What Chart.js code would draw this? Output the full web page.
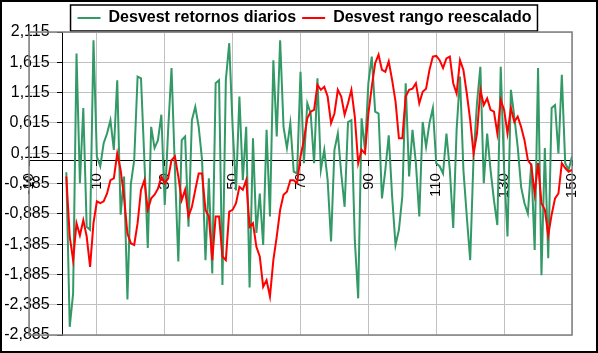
<!DOCTYPE html>
<html>
<head>
<meta charset="utf-8">
<script src="https://cdn.jsdelivr.net/npm/chart.js@4.4.1/dist/chart.umd.min.js"></script>
<style>
  body { margin: 0; background: #fff; }
  #wrap { width: 598px; height: 353px; }
</style>
</head>
<body>
<div id="wrap"><canvas id="grafico"></canvas></div>
<script>
// datos (dias 1..150)
const dias = Array.from({ length: 150 }, (_, i) => i + 1);

const retornos = [
  -0.2, -2.75, -2.2, 1.76, -0.38, 0.86, -1.1, -1.15, 1.98, 0.06,
  -0.1, 0.28, 0.44, 0.66, 0.17, 1.32, -0.9, -0.27, -2.3, -0.4,
  0.0, 1.38, 1.35, 0.0, -1.45, 0.55, 0.2, 0.33, 0.75, -0.74,
  0.5, 1.52, -0.16, -1.67, 0.33, 0.39, -1.1, 0.66, 0.88, 0.55,
  0.0, -1.65, -0.3, -1.87, 1.27, 1.32, -2.06, 1.32, 1.93, 0.55,
  -0.5, 1.05, -0.33, 0.55, -2.1, 0.36, -1.2, -0.55, -1.4, 0.5,
  -0.93, 1.65, 0.39, 1.98, 0.55, 0.2, 0.61, -0.19, -0.22, 1.46,
  -0.05, 0.94, 0.77, -0.05, 1.35, -0.16, 0.17, -0.33, -1.34, 0.17,
  0.44, -0.22, -0.77, 0.63, 0.66, -1.32, -2.28, 0.69, 0.17, 1.27,
  1.71, 0.8, 0.77, -0.63, -0.16, 0.41, -0.6, -1.4, -1.15, -0.6,
  1.27, -0.27, 0.5, -0.05, -0.93, 0.63, 0.22, 0.61, 0.86, -0.05,
  -0.1, -0.22, 0.44, -0.16, -1.12, 0.5, 1.38, -0.16, -0.93, -1.65,
  0.06, 0.94, 1.54, -0.38, 0.44, -0.16, -0.66, -1.07, 1.54, -0.16,
  -1.26, 1.16, 0.72, 0.22, -0.44, -0.71, -0.88, -0.05, -1.48, 1.52,
  -1.9, 0.2, -1.62, 0.86, 0.91, 0.11, 1.41, -0.05, -0.16, 0.06
];

const rango = [
  -0.27, -1.26, -1.65, -1.04, -1.24, -0.99, -1.26, -1.76, -1.04, -0.68,
  -0.71, -0.68, -0.55, -0.33, -0.3, 0.11, -0.16, -0.6, -1.21, -1.37,
  -1.4, -1.04, -0.49, -0.33, -0.82, -0.63, -0.57, -0.47, -0.27, -0.38,
  -0.3, 0.0, 0.06, -0.27, -0.66, -0.49, -0.93, -0.77, -0.49, -0.22,
  -0.22, -0.82, -0.93, -1.65, -0.93, -0.93, -1.59, -1.65, -0.85, -0.82,
  -0.71, -0.44, -0.49, -0.33, -1.1, -1.04, -1.43, -1.59, -2.09, -1.98,
  -2.25, -1.65, -1.26, -0.82, -0.57, -0.52, -0.33, -0.33, -0.38, 0.06,
  0.33, 0.69, 0.8, 0.83, 1.24, 1.16, 1.21, 1.05, 0.61, 0.77,
  1.16, 1.05, 0.75, 0.94, 1.16, 0.72, -0.05, 0.17, 0.11, 0.77,
  1.21, 1.6, 1.74, 1.49, 1.46, 1.63, 1.32, 0.97, 0.36, 0.36,
  1.05, 1.16, 1.18, 1.27, 0.94, 1.13, 1.18, 1.49, 1.71, 1.72,
  1.65, 1.52, 1.68, 1.71, 1.27, 1.1, 1.65, 1.49, 1.1, 0.66,
  0.11, 0.44, 1.16, 0.91, 1.02, 0.83, 0.8, 0.44, 0.99, 0.83,
  0.44, 0.86, 0.63, 0.72, 0.55, 0.33, 0.0, -0.08, -0.55, -0.05,
  -0.71, -0.82, -1.24, -0.9, -0.63, -0.55, -0.05, -0.13, -0.19, -0.16
];

const ticksX = [-10, 10, 30, 50, 70, 90, 110, 130, 150];
const ticksY = [-2.885, -2.385, -1.885, -1.385, -0.885, -0.385, 0.115, 0.615, 1.115, 1.615, 2.115];

const FUENTE = "'Liberation Sans', Arial, sans-serif";

// marco negro del grafico, caja de la leyenda y borde gris del area de trazado
const marcos = {
  id: 'marcos',
  beforeDraw(chart) {
    const c = chart.ctx;
    c.save();
    c.fillStyle = '#fff';
    c.fillRect(0, 0, chart.width, chart.height);
    c.strokeStyle = '#000';
    c.lineWidth = 2;
    c.strokeRect(1, 1, chart.width - 2, chart.height - 2);
    const hb = chart.legend.legendHitBoxes;
    if (hb && hb.length) {
      const l = hb[0].left - 7;
      const r = hb[hb.length - 1].left + hb[hb.length - 1].width + 6;
      const t = hb[0].top - 5;
      const b = hb[0].top + hb[0].height + 5;
      c.lineWidth = 1.5;
      c.strokeRect(l, t, r - l, b - t);
    }
    c.restore();
  },
  beforeDatasetsDraw(chart) {
    const a = chart.chartArea;
    const c = chart.ctx;
    c.save();
    c.strokeStyle = '#808080';
    c.lineWidth = 1.5;
    c.strokeRect(a.left, a.top, a.right - a.left, a.bottom - a.top);
    c.restore();
  }
};

// la leyenda se solapa con el borde superior como en Excel
const ajusteLeyenda = {
  id: 'ajusteLeyenda',
  beforeInit(chart) {
    const fit = chart.legend.fit;
    chart.legend.fit = function () {
      fit.call(this);
      this.height = 28;
    };
  }
};

new Chart(document.getElementById('grafico'), {
  type: 'line',
  data: {
    labels: dias,
    datasets: [
      {
        label: 'Desvest retornos diarios',
        data: retornos,
        borderColor: '#339966',
        backgroundColor: '#339966',
        borderWidth: 2,
        pointRadius: 0,
        tension: 0,
        order: 1
      },
      {
        label: 'Desvest rango reescalado',
        data: rango,
        borderColor: '#ff0000',
        backgroundColor: '#ff0000',
        borderWidth: 2,
        pointRadius: 0,
        tension: 0,
        order: 0
      }
    ]
  },
  options: {
    responsive: true,
    maintainAspectRatio: false,
    animation: false,
    devicePixelRatio: 1,
    layout: { padding: { left: 29, right: 18, top: 4, bottom: 18 } },
    plugins: {
      tooltip: { enabled: false },
      legend: {
        position: 'top',
        labels: {
          usePointStyle: true,
          pointStyle: 'line',
          pointStyleWidth: 23,
          padding: 6,
          color: '#000',
          font: { family: FUENTE, size: 16, weight: 'bold' },
          sort: (a, b) => a.datasetIndex - b.datasetIndex
        }
      }
    },
    scales: {
      x: {
        type: 'linear',
        position: { y: 0 },
        min: -10,
        max: 150,
        afterBuildTicks: s => { s.ticks = ticksX.map(v => ({ value: v })); },
        grid: { color: '#c0c0c0', tickColor: '#000', tickLength: 5, lineWidth: 1 },
        border: { color: '#000', width: 1 },
        ticks: {
          autoSkip: false,
          minRotation: 90,
          maxRotation: 90,
          padding: 8,
          color: '#000',
          font: { family: FUENTE, size: 15 },
          callback: v => String(v)
        }
      },
      y: {
        type: 'linear',
        position: { x: 0 },
        min: -2.885,
        max: 2.115,
        afterBuildTicks: s => { s.ticks = ticksY.map(v => ({ value: v })); },
        grid: { color: '#c0c0c0', tickColor: '#000', tickLength: 5, lineWidth: 1 },
        border: { color: '#000', width: 1 },
        ticks: {
          padding: 8,
          color: '#000',
          font: { family: FUENTE, size: 16 },
          // con el eje en x=0 Chart.js no separa las etiquetas del eje: se dejan espacios al final
          callback: v => v.toFixed(3).replace('.', ',') + '   '
        }
      }
    }
  },
  plugins: [marcos, ajusteLeyenda]
});
</script>
</body>
</html>
